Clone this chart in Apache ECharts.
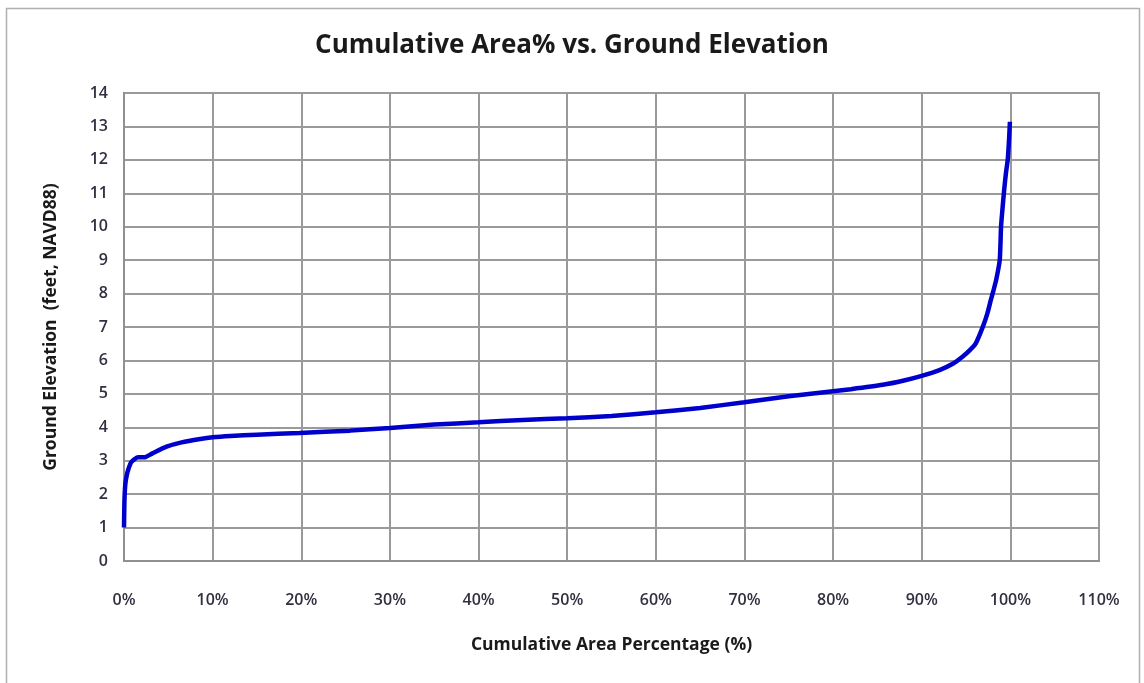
<!DOCTYPE html>
<html><head><meta charset="utf-8">
<script src="https://cdn.jsdelivr.net/npm/echarts@6/dist/echarts.min.js"></script>
<style>html,body{margin:0;padding:0;background:#fff}#c{width:1144px;height:683px}</style>
</head><body><div id="c"></div>
<script>
var titleText = "Cumulative Area% vs. Ground Elevation";
var xName = "Cumulative Area Percentage (%)";
var yName = "Ground Elevation  (feet, NAVD88)";
var areaPct = [0.0, 0.05, 0.15, 0.3, 0.5, 0.8, 1.2, 1.6, 2.3, 3.2, 4.8, 6.5, 8.6, 10, 12, 15, 19.8, 25.5, 30, 35, 40, 45, 50, 55, 60, 65, 70, 75, 80, 82, 85.6, 88, 89.9, 92, 93.5, 94.6, 95.4, 96.1, 96.9, 97.4, 97.8, 98.1, 98.4, 98.8, 98.95, 99.1, 99.3, 99.5, 99.7, 99.85, 99.95];
var elevation = [1.0, 1.8, 2.3, 2.55, 2.75, 2.95, 3.05, 3.1, 3.1, 3.22, 3.42, 3.55, 3.65, 3.7, 3.74, 3.78, 3.83, 3.9, 3.98, 4.08, 4.15, 4.22, 4.27, 4.34, 4.45, 4.58, 4.75, 4.93, 5.08, 5.14, 5.27, 5.4, 5.53, 5.71, 5.9, 6.11, 6.3, 6.51, 7.01, 7.4, 7.81, 8.1, 8.41, 9.0, 10.0, 10.5, 11.1, 11.6, 12.0, 12.6, 13.14];
var xTicks = [0,10,20,30,40,50,60,70,80,90,100,110];
var yTicks = [0,1,2,3,4,5,6,7,8,9,10,11,12,13,14];

var chart = echarts.init(document.getElementById('c'));
var lblFont = 'Open Sans';
chart.setOption({
  animation: false,
  backgroundColor: '#fff',
  graphic: [{type:'rect', shape:{x:6.5,y:8.5,width:1133,height:690}, style:{fill:'none', stroke:'#b0b0b0', lineWidth:1.5}, z:-1}],
  title: {text: titleText, left: 'center', top: 28, textStyle:{fontFamily:lblFont, fontSize:26, fontWeight:'bold', color:'#1a1a1a'}},
  grid: {left:124, right:45, top:93, bottom:122, show:true, borderColor:'#404040', borderWidth:1.5, backgroundColor:'#fff'},
  xAxis: {type:'value', min:0, max:110, interval:10, name:xName, nameLocation:'middle', nameGap:75,
    nameTextStyle:{fontFamily:lblFont, fontSize:17.5, fontWeight:'bold', color:'#1a1a1a'},
    axisLine:{show:true, lineStyle:{color:'#909090', width:2}}, axisTick:{show:false},
    axisLabel:{margin:31, fontFamily:lblFont, fontSize:16, fontWeight:600, color:'#303040', formatter:function(v){return v+'%';}},
    splitLine:{show:true, lineStyle:{color:'#9a9a9a', width:2}}},
  yAxis: {type:'value', min:0, max:14, interval:1, name:yName, nameLocation:'middle', nameGap:64, nameRotate:90,
    nameTextStyle:{fontFamily:lblFont, fontSize:17.5, fontWeight:'bold', color:'#1a1a1a'},
    axisLine:{show:true, lineStyle:{color:'#909090', width:2}}, axisTick:{show:false},
    axisLabel:{margin:16, fontFamily:lblFont, fontSize:16, fontWeight:600, color:'#303040'},
    splitLine:{show:true, lineStyle:{color:'#9a9a9a', width:2}}},
  series: [{type:'line', data: areaPct.map(function(p,i){return [p, elevation[i]];}), showSymbol:false, smooth:0.2,
    lineStyle:{color:'#0000cc', width:4.5}, itemStyle:{color:'#0000cc'}}]
});
</script></body></html>
